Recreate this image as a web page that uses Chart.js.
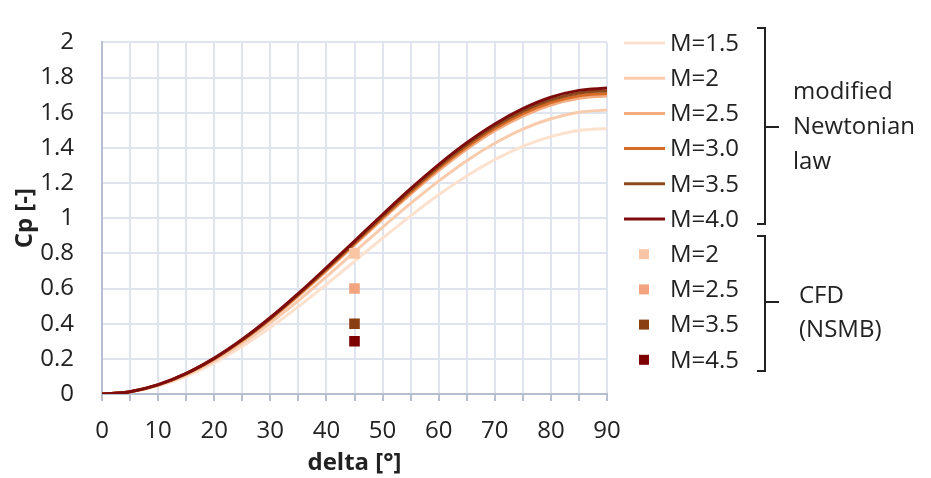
<!DOCTYPE html>
<html>
<head>
<meta charset="utf-8">
<title>Cp vs delta</title>
<script src="https://cdn.jsdelivr.net/npm/chart.js@4/dist/chart.umd.min.js"></script>
<style>
  html, body { margin: 0; padding: 0; background: #fff; }
  #wrap { width: 931px; height: 478px; }
</style>
</head>
<body>
<div id="wrap"><canvas id="cp-chart" width="931" height="478"></canvas></div>
<script>
// deflection angle [deg]
const deltaDeg = [0, 5, 10, 15, 20, 25, 30, 35, 40, 45, 50, 55, 60, 65, 70, 75, 80, 85, 90];

// modified Newtonian law, Cp per Mach number
const cpM15 = [0, 0.011, 0.046, 0.101, 0.177, 0.270, 0.378, 0.497, 0.624, 0.755, 0.886, 1.013, 1.133, 1.240, 1.333, 1.409, 1.464, 1.499, 1.510];
const cpM20 = [0, 0.012, 0.049, 0.108, 0.189, 0.288, 0.404, 0.531, 0.667, 0.808, 0.948, 1.084, 1.211, 1.327, 1.426, 1.507, 1.566, 1.603, 1.615];
const cpM25 = [0, 0.013, 0.051, 0.114, 0.198, 0.303, 0.424, 0.558, 0.700, 0.848, 0.995, 1.137, 1.271, 1.392, 1.497, 1.581, 1.644, 1.682, 1.695];
const cpM30 = [0, 0.013, 0.052, 0.115, 0.200, 0.305, 0.428, 0.563, 0.707, 0.855, 1.003, 1.147, 1.283, 1.405, 1.510, 1.595, 1.658, 1.697, 1.710];
const cpM35 = [0, 0.013, 0.052, 0.116, 0.202, 0.308, 0.431, 0.568, 0.713, 0.863, 1.012, 1.158, 1.294, 1.417, 1.523, 1.609, 1.673, 1.712, 1.725];
const cpM40 = [0, 0.013, 0.053, 0.117, 0.204, 0.311, 0.435, 0.572, 0.719, 0.870, 1.021, 1.168, 1.305, 1.429, 1.536, 1.623, 1.688, 1.727, 1.740];

// CFD (NSMB) points, all at delta = 45
const cfdDelta = 45;
const cfdCp = [0.8, 0.6, 0.4, 0.3];
const cfdLabels = ['M=2', 'M=2.5', 'M=3.5', 'M=4.5'];
const cfdColors = ['#f8c6a5', '#f1a47d', '#8a3f12', '#7c0000'];

const lineLabels = ['M=1.5', 'M=2', 'M=2.5', 'M=3.0', 'M=3.5', 'M=4.0'];
const lineColors = ['#fce1cf', '#f9cbad', '#f4ab80', '#d76a26', '#8c4a1c', '#7e0c0c'];
const lineSeries = [cpM15, cpM20, cpM25, cpM30, cpM35, cpM40];

const FONT = "'Open Sans', 'Liberation Sans', sans-serif";
const FSIZE = 24;
const TXT = '#222';

const pts = ys => ys.map((y, i) => ({ x: deltaDeg[i], y }));

const datasets = [];
lineSeries.forEach((ys, i) => {
  datasets.push({
    type: 'line',
    label: lineLabels[i],
    data: pts(ys),
    borderColor: lineColors[i],
    borderWidth: 3,
    pointRadius: 0,
    cubicInterpolationMode: 'monotone',
    fill: false,
    order: lineSeries.length - i
  });
});
cfdCp.forEach((y, i) => {
  datasets.push({
    type: 'scatter',
    label: cfdLabels[i],
    data: [{ x: cfdDelta, y }],
    backgroundColor: cfdColors[i],
    borderColor: cfdColors[i],
    pointStyle: 'rect',
    pointRadius: 7.5,
    borderWidth: 0,
    order: 0
  });
});

// legend with brackets on the right side
const sideLegend = {
  id: 'sideLegend',
  afterDraw(chart) {
    const ctx = chart.ctx;
    ctx.save();
    ctx.font = `${FSIZE}px ${FONT}`;
    ctx.textBaseline = 'middle';
    ctx.textAlign = 'left';
    ctx.fillStyle = TXT;
    const y0 = 43, step = 35.2;
    chart.data.datasets.forEach((ds, i) => {
      const y = y0 + i * step;
      if (ds.type === 'line') {
        ctx.strokeStyle = ds.borderColor;
        ctx.lineWidth = 3;
        ctx.beginPath();
        ctx.moveTo(624, y);
        ctx.lineTo(665, y);
        ctx.stroke();
      } else {
        ctx.fillStyle = ds.backgroundColor;
        ctx.fillRect(639, y - 5, 10, 10);
      }
      ctx.fillStyle = TXT;
      ctx.fillText(ds.label, 670, y + 1);
    });

    ctx.strokeStyle = '#222';
    ctx.lineWidth = 2;
    const bracket = (top, bottom, mid) => {
      ctx.beginPath();
      ctx.moveTo(757, top);
      ctx.lineTo(765, top);
      ctx.lineTo(765, bottom);
      ctx.lineTo(757, bottom);
      ctx.moveTo(765, mid);
      ctx.lineTo(779, mid);
      ctx.stroke();
    };
    bracket(28, 224, 127);
    bracket(236, 371, 302);

    ctx.fillText('modified', 793, 92);
    ctx.fillText('Newtonian', 793, 127);
    ctx.fillText('law', 793, 162);
    ctx.fillText('CFD', 799, 296);
    ctx.fillText('(NSMB)', 799, 330);
    ctx.restore();
  }
};

new Chart(document.getElementById('cp-chart'), {
  type: 'line',
  data: { datasets },
  plugins: [sideLegend],
  options: {
    responsive: false,
    animation: false,
    layout: { padding: { top: 21, right: 324, bottom: 0, left: 0 } },
    plugins: { legend: { display: false }, tooltip: { enabled: false } },
    scales: {
      x: {
        type: 'linear',
        min: 0,
        max: 90,
        afterFit: s => { s.height = 84; },
        ticks: {
          stepSize: 5,
          autoSkip: false,
          maxRotation: 0,
          padding: 16,
          color: TXT,
          font: { family: FONT, size: FSIZE },
          callback: v => (v % 10 === 0 ? String(v) : '')
        },
        grid: { color: '#dfe4ee', lineWidth: 2, tickColor: '#b5bfcf', tickLength: 7 },
        border: { color: '#b5bfcf', width: 2 },
        title: {
          display: true,
          text: 'delta [°]',
          color: TXT,
          padding: { top: 0, bottom: 0 },
          font: { family: FONT, size: FSIZE, weight: 'bold' }
        }
      },
      y: {
        min: 0,
        max: 2,
        afterFit: s => { s.width = 102; },
        ticks: {
          stepSize: 0.2,
          padding: 28,
          color: TXT,
          font: { family: FONT, size: FSIZE },
          callback: v => String(Number(v.toFixed(1)))
        },
        grid: { color: '#dfe4ee', lineWidth: 2, drawTicks: false },
        border: { color: '#b5bfcf', width: 2 },
        title: {
          display: true,
          text: 'Cp [-]',
          color: TXT,
          padding: { top: 11, bottom: 0 },
          font: { family: FONT, size: FSIZE, weight: 'bold' }
        }
      }
    }
  }
});
</script>
</body>
</html>
